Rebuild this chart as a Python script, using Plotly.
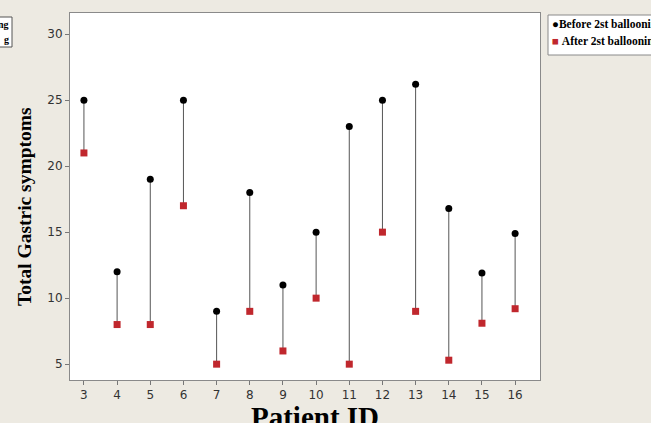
import plotly.graph_objects as go

patient_ids = [3, 4, 5, 6, 7, 8, 9, 10, 11, 12, 13, 14, 15, 16]
before_2nd = [25, 12, 19, 25, 9, 18, 11, 15, 23, 25, 26.2, 16.8, 11.9, 14.9]
after_2nd = [21, 8, 8, 17, 5, 9, 6, 10, 5, 15, 9, 5.3, 8.1, 9.2]
y_ticks = [5, 10, 15, 20, 25, 30]

BG = "#EDEAE2"
RED = "#C0272D"

# connecting segments
seg_x, seg_y = [], []
for pid, b, a in zip(patient_ids, before_2nd, after_2nd):
    seg_x += [pid, pid, None]
    seg_y += [b, a, None]

fig = go.Figure()
fig.add_trace(go.Scatter(x=seg_x, y=seg_y, mode="lines",
                         line=dict(color="#555555", width=1),
                         showlegend=False, hoverinfo="skip"))
fig.add_trace(go.Scatter(x=patient_ids, y=before_2nd, mode="markers",
                         name="Before 2st ballooning",
                         marker=dict(symbol="circle", size=7, color="black"),
                         showlegend=False))
fig.add_trace(go.Scatter(x=patient_ids, y=after_2nd, mode="markers",
                         name="After 2st ballooning",
                         marker=dict(symbol="square", size=7, color=RED),
                         showlegend=False))

W, H = 651, 423
L, R, T, B = 70, 111, 13, 43
pw, ph = W - L - R, H - T - B

def px(x):
    return (x - L) / pw

def py(y):
    return (H - B - y) / ph

shapes = [
    # right legend box
    dict(type="rect", xref="paper", yref="paper",
         x0=px(548), x1=px(700), y0=py(55), y1=py(15),
         line=dict(color="#8a8a8a", width=1), fillcolor="white", layer="above"),
    # left legend fragment
    dict(type="rect", xref="paper", yref="paper",
         x0=px(-60), x1=px(12), y0=py(47), y1=py(17),
         line=dict(color="#555555", width=1), fillcolor="white", layer="above"),
]

serif = "Liberation Serif, Times New Roman, serif"
annotations = [
    dict(xref="paper", yref="paper", x=px(550), y=py(24), xanchor="left", yanchor="middle",
         text="<span style='color:black'>●</span><b>Before 2st ballooning</b>",
         showarrow=False, font=dict(family=serif, size=11.5, color="black")),
    dict(xref="paper", yref="paper", x=px(550), y=py(41), xanchor="left", yanchor="middle",
         text="<span style='color:%s'>■</span> <b>After 2st ballooning</b>" % RED,
         showarrow=False, font=dict(family=serif, size=11.5, color="black")),
    dict(xref="paper", yref="paper", x=px(11), y=py(24), xanchor="right", yanchor="middle",
         text="<b>ng</b>", showarrow=False, font=dict(family=serif, size=10, color="black")),
    dict(xref="paper", yref="paper", x=px(11), y=py(39), xanchor="right", yanchor="middle",
         text="<b>g</b>", showarrow=False, font=dict(family=serif, size=10, color="black")),
    # x axis title
    dict(xref="paper", yref="paper", x=px(315), y=py(399), xanchor="center", yanchor="top",
         text="<b>Patient ID</b>", showarrow=False,
         font=dict(family=serif, size=29, color="black")),
    # y axis title
    dict(xref="paper", yref="paper", x=px(24), y=py(207), xanchor="center", yanchor="middle",
         text="<b>Total Gastric symptoms</b>", showarrow=False, textangle=-90,
         font=dict(family=serif, size=19.5, color="black")),
]

fig.update_layout(
    width=W, height=H,
    margin=dict(l=L, r=R, t=T, b=B, pad=0),
    paper_bgcolor=BG, plot_bgcolor="white",
    shapes=shapes, annotations=annotations,
    showlegend=False,
    xaxis=dict(range=[2.58, 16.75], tickmode="array", tickvals=patient_ids,
               ticks="outside", ticklen=4, tickcolor="#777777",
               showgrid=False, zeroline=False,
               showline=True, linecolor="#8a8a8a", linewidth=1, mirror=True,
               tickfont=dict(family="DejaVu Sans", size=12, color="#333333")),
    yaxis=dict(range=[3.8, 31.6], tickmode="array", tickvals=y_ticks,
               ticks="outside", ticklen=4, tickcolor="#777777",
               showgrid=False, zeroline=False,
               showline=True, linecolor="#8a8a8a", linewidth=1, mirror=True,
               tickfont=dict(family="DejaVu Sans", size=12, color="#333333")),
)

fig.write_html("out.html", config={"displayModeBar": False},
               post_script="document.body.style.margin='0';document.body.style.padding='0';document.body.style.overflow='hidden';")
